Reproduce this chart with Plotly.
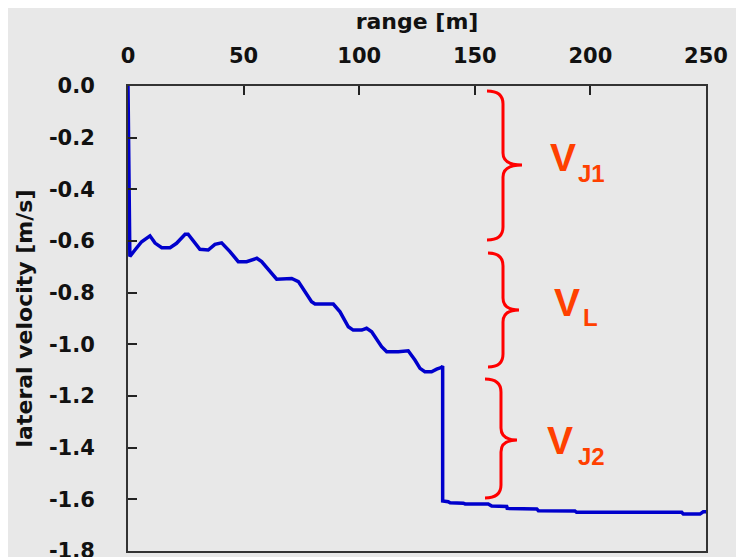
import plotly.graph_objects as go

# ---------------- data ----------------
range_m = [0, 0.3, 0.8, 3, 5.9, 9.5, 11.7, 14.6, 18.2, 21, 24.7, 26, 31.1, 34.7, 37.6, 40.5,
           44.1, 47.7, 51.3, 55.7, 57.8, 64.3, 70.8, 73.7, 76.5, 79.4, 80.9, 88.8, 91.7, 95.3,
           97.4, 101.1, 103.2, 105.4, 109.7, 111.9, 116.9, 121.2, 124.1, 126.3, 128.4, 131.3,
           133.5, 135.7, 136.1, 136.1, 138.5, 139.3, 145, 145.8, 155.8, 157.3, 163.8, 164.0,
           176.8, 177.5, 193.3, 194, 239.5, 240.2, 247.4, 248.8, 250]
lat_vel = [0.0, -0.18, -0.66, -0.635, -0.603, -0.58, -0.608, -0.626, -0.626, -0.609, -0.574,
           -0.574, -0.632, -0.635, -0.613, -0.607, -0.641, -0.68, -0.68, -0.667, -0.68, -0.748,
           -0.745, -0.757, -0.796, -0.835, -0.844, -0.844, -0.874, -0.932, -0.945, -0.945,
           -0.938, -0.951, -1.009, -1.029, -1.029, -1.025, -1.061, -1.093, -1.106, -1.106,
           -1.096, -1.089, -1.084, -1.606, -1.609, -1.613, -1.615, -1.618, -1.618, -1.626,
           -1.628, -1.635, -1.637, -1.644, -1.645, -1.65, -1.65, -1.657, -1.657, -1.648, -1.648]

x_tick_vals = [0, 50, 100, 150, 200, 250]
x_tick_text = ["0", "50", "100", "150", "200", "250"]
y_tick_vals = [0.0, -0.2, -0.4, -0.6, -0.8, -1.0, -1.2, -1.4, -1.6, -1.8]
y_tick_text = ["0.0", "-0.2", "-0.4", "-0.6", "-0.8", "-1.0", "-1.2", "-1.4", "-1.6", "-1.8"]

labels_main = ["V", "V", "V"]
labels_sub = ["J1", "L", "J2"]

# ---------------- layout geometry ----------------
# the page body has an 8px margin; figure coordinates = page coordinates - 8
OFF = 8
W, H = 744 - OFF, 557 - OFF
PL, PR, PT, PB = 128 - OFF, 706 - OFF, 86 - OFF, 551 - OFF


def px(x):
    return (x - OFF - PL) / (PR - PL)


def py(y):
    return (PB - (y - OFF)) / (PB - PT)


def brace_path(tip, v, pt, top, mid, bot, r=13, rm=12):
    pts = [
        f"M {px(tip):.4f},{py(top):.4f}",
        f"Q {px(v):.4f},{py(top):.4f} {px(v):.4f},{py(top + r):.4f}",
        f"L {px(v):.4f},{py(mid - rm):.4f}",
        f"Q {px(v):.4f},{py(mid):.4f} {px(pt):.4f},{py(mid):.4f}",
        f"Q {px(v):.4f},{py(mid):.4f} {px(v):.4f},{py(mid + rm):.4f}",
        f"L {px(v):.4f},{py(bot - r):.4f}",
        f"Q {px(v):.4f},{py(bot):.4f} {px(tip):.4f},{py(bot):.4f}",
    ]
    return " ".join(pts)


# page-pixel positions of the annotation braces and labels
braces = [
    (487, 503, 522, 91, 165, 240),
    (488, 503, 519, 253, 310, 367),
    (485, 501, 517, 379, 440, 498),
]
main_pos = [(562.5, 158), (567, 302), (560, 440)]
sub_pos = [(591.5, 173.5), (590, 317), (591, 456.5)]

fig = go.Figure()
fig.add_trace(go.Scatter(
    x=range_m, y=lat_vel, mode="lines",
    line=dict(color="#0000cc", width=3.5),
    showlegend=False, hoverinfo="skip",
))

for b in braces:
    fig.add_shape(type="path", xref="paper", yref="paper", path=brace_path(*b),
                  line=dict(color="#ff0000", width=3))

ann_color = "#ff4000"
for (mx, my), (sx, sy), m, s in zip(main_pos, sub_pos, labels_main, labels_sub):
    fig.add_annotation(x=px(mx), y=py(my), xref="paper", yref="paper", text=m,
                       showarrow=False, xanchor="center", yanchor="middle",
                       font=dict(family="Liberation Sans", size=39, color=ann_color, weight="bold"))
    fig.add_annotation(x=px(sx), y=py(sy), xref="paper", yref="paper", text=s,
                       showarrow=False, xanchor="center", yanchor="middle",
                       font=dict(family="Liberation Sans", size=24, color=ann_color, weight="bold"))

tick_font = dict(family="DejaVu Sans", size=21, color="#111111", weight="bold")
title_font = dict(family="DejaVu Sans", size=22, color="#111111", weight="bold")

fig.update_layout(
    width=W, height=H,
    margin=dict(l=PL, r=W - PR, t=PT, b=H - PB, pad=0, autoexpand=False),
    paper_bgcolor="#e8e8e8", plot_bgcolor="#e8e8e8",
    xaxis=dict(
        side="top", range=[0, 250], tickmode="array", tickvals=x_tick_vals, ticktext=x_tick_text,
        ticks="inside", ticklen=9, tickwidth=2, tickcolor="#222222",
        showline=True, linecolor="#333333", linewidth=2, mirror=True, automargin=False,
        showgrid=False, zeroline=False, tickfont=tick_font, ticklabelstandoff=13,
        title=dict(text="range [m]", font=title_font, standoff=8),
    ),
    yaxis=dict(
        range=[-1.8, 0], tickmode="array", tickvals=y_tick_vals, ticktext=y_tick_text,
        ticks="inside", ticklen=9, tickwidth=2, tickcolor="#222222",
        showline=True, linecolor="#333333", linewidth=2, mirror=True, automargin=False,
        showgrid=False, zeroline=False, tickfont=tick_font, ticklabelstandoff=27,
        ticklabeloverflow="allow",
        title=dict(text="lateral velocity [m/s]", font=title_font, standoff=10),
    ),
)

fig.write_html("out.html")
